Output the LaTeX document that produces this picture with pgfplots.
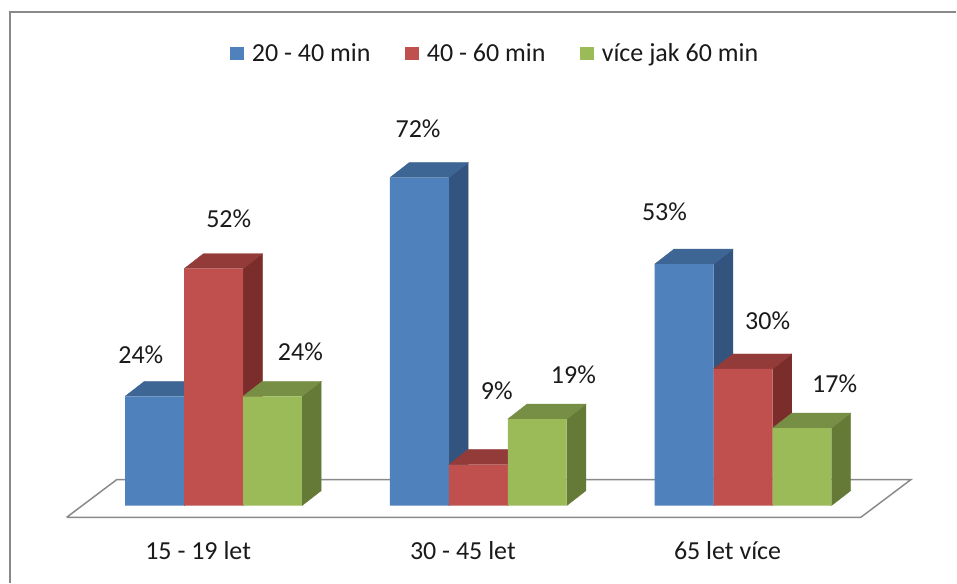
\documentclass[border=0pt]{standalone}
\usepackage{fontspec}
\setmainfont{Carlito}
\usepackage{pgfplots}
\usepackage{pgfplotstable}
\pgfplotsset{compat=1.18}
\definecolor{blueF}{HTML}{4F81BD}
\definecolor{blueT}{HTML}{3E6695}
\definecolor{blueS}{HTML}{33547F}
\definecolor{redF}{HTML}{C0504D}
\definecolor{redT}{HTML}{933B39}
\definecolor{redS}{HTML}{7B2D2C}
\definecolor{greenF}{HTML}{9BBB59}
\definecolor{greenT}{HTML}{778F45}
\definecolor{greenS}{HTML}{657A37}
\definecolor{framec}{HTML}{898989}
\definecolor{txt}{HTML}{1A1A1A}
\newcommand\fs{\fontsize{19.5}{23}\selectfont}

% x = category index, y = value (%), dx/dy = label offset from category centre/bar top (pt)
\pgfplotstableread{
x y dx dy
0 24 -54.6 31.2
1 72 -45.2 37.0
2 53 -59.0 39.0
}\tblue
\pgfplotstableread{
x y dx dy
0 52 11.4 37.4
1 9 13.9 55.7
2 30 18.5 36.4
}\tred
\pgfplotstableread{
x y dx dy
0 24 65.2 33.2
1 19 71.4 33.3
2 17 68.8 33.2
}\tgreen

\pgfplotsset{
  face/.style={draw=#1, fill=#1, line width=0.3pt, forget plot},
  front/.style={ybar, bar width=0.2226, fill=#1, draw=none,
    legend image code/.code={\fill[#1] (0pt,-4.9pt) rectangle (10.5pt,4.9pt);},
    visualization depends on={\thisrow{dx}\as\ldx},
    visualization depends on={\thisrow{dy}\as\ldy},
    nodes near coords={\pgfmathprintnumber{\pgfplotspointmeta}\%},
    every node near coord/.append style={anchor=center, xshift=\ldx pt, yshift=\ldy pt, font=\fs, text=txt}},
}

\begin{document}
\begin{tikzpicture}
\begin{axis}[
  scale only axis, width=717.75pt, height=437.25pt,
  xmin=-0.8068, xmax=2.8045, ymin=-16.886, ymax=110.965,
  axis line style={draw=none}, major tick length=0pt, ytick=\empty,
  xtick={0,1,2}, xticklabels={15 - 19 let,30 - 45 let,65 let více},
  xticklabel style={anchor=center, xshift=-11.6pt, yshift=24pt, font=\fs, text=txt},
  axis background/.style={fill=white},
  clip=false,
  /pgf/number format/assume math mode=true,
  legend columns=3,
  legend style={at={(axis cs:1.06,99.3)}, anchor=center, draw=none, fill=none,
    inner sep=0pt, font=\fs, text=txt, nodes={inner sep=0pt},
    /tikz/every odd column/.append style={column sep=5.8pt},
    /tikz/every even column/.append style={column sep=26pt}},
  legend cell align=left,
]
% floor
\addplot[draw=framec, fill=white, line width=1.1pt, forget plot] coordinates
  {(-0.555,-2.57) (2.445,-2.57) (2.634,5.70) (-0.366,5.70) (-0.555,-2.57)};

% blue series: side + top faces, then front
\addplot[face=blueS] coordinates {(-0.1113,0) (-0.0385,3.29) (-0.0385,27.29) (-0.1113,24)};
\addplot[face=blueT] coordinates {(-0.3339,24) (-0.2611,27.29) (-0.0385,27.29) (-0.1113,24)};
\addplot[face=blueS] coordinates {(0.8887,0) (0.9615,3.29) (0.9615,75.29) (0.8887,72)};
\addplot[face=blueT] coordinates {(0.6661,72) (0.7389,75.29) (0.9615,75.29) (0.8887,72)};
\addplot[face=blueS] coordinates {(1.8887,0) (1.9615,3.29) (1.9615,56.29) (1.8887,53)};
\addplot[face=blueT] coordinates {(1.6661,53) (1.7389,56.29) (1.9615,56.29) (1.8887,53)};
\addplot[front=blueF, bar shift=-0.2226] table[x=x,y=y] {\tblue};
\addlegendentry{20 - 40 min}

% red series
\addplot[face=redS] coordinates {(0.1113,0) (0.1841,3.29) (0.1841,55.29) (0.1113,52)};
\addplot[face=redT] coordinates {(-0.1113,52) (-0.0385,55.29) (0.1841,55.29) (0.1113,52)};
\addplot[face=redS] coordinates {(1.1113,0) (1.1841,3.29) (1.1841,12.29) (1.1113,9)};
\addplot[face=redT] coordinates {(0.8887,9) (0.9615,12.29) (1.1841,12.29) (1.1113,9)};
\addplot[face=redS] coordinates {(2.1113,0) (2.1841,3.29) (2.1841,33.29) (2.1113,30)};
\addplot[face=redT] coordinates {(1.8887,30) (1.9615,33.29) (2.1841,33.29) (2.1113,30)};
\addplot[front=redF, bar shift=0] table[x=x,y=y] {\tred};
\addlegendentry{40 - 60 min}

% green series
\addplot[face=greenS] coordinates {(0.3339,0) (0.4067,3.29) (0.4067,27.29) (0.3339,24)};
\addplot[face=greenT] coordinates {(0.1113,24) (0.1841,27.29) (0.4067,27.29) (0.3339,24)};
\addplot[face=greenS] coordinates {(1.3339,0) (1.4067,3.29) (1.4067,22.29) (1.3339,19)};
\addplot[face=greenT] coordinates {(1.1113,19) (1.1841,22.29) (1.4067,22.29) (1.3339,19)};
\addplot[face=greenS] coordinates {(2.3339,0) (2.4067,3.29) (2.4067,20.29) (2.3339,17)};
\addplot[face=greenT] coordinates {(2.1113,17) (2.1841,20.29) (2.4067,20.29) (2.3339,17)};
\addplot[front=greenF, bar shift=0.2226] table[x=x,y=y] {\tgreen};
\addlegendentry{více jak 60 min}

% chart frame
\draw[framec, line width=1.5pt] (axis cs:-0.7702,-16.886) -- (axis cs:-0.7702,108.27) -- (axis cs:2.8045,108.27);
\end{axis}
\end{tikzpicture}
\end{document}
